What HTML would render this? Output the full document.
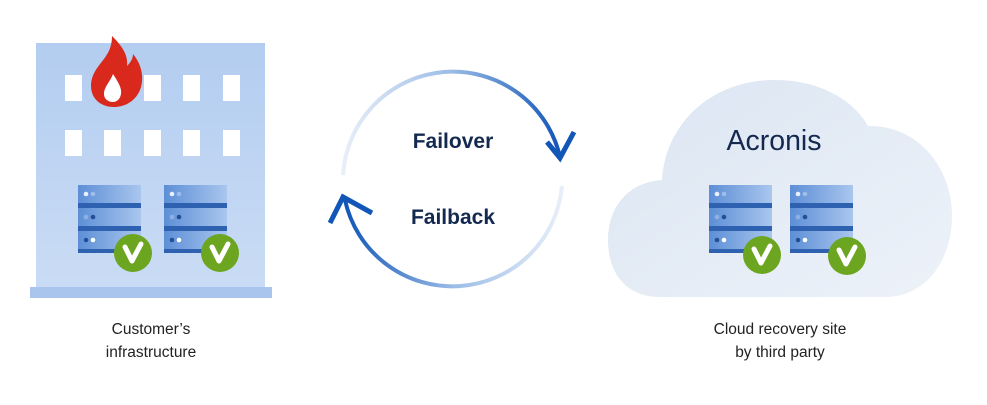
<!DOCTYPE html>
<html><head><meta charset="utf-8"><style>
body{margin:0;background:#fff;width:987px;height:400px;overflow:hidden;font-family:"Liberation Sans",sans-serif}
</style></head><body>
<svg width="987" height="400" viewBox="0 0 987 400" xmlns="http://www.w3.org/2000/svg">
<defs>
<linearGradient id="bld" x1="0" y1="0" x2="0" y2="1"><stop offset="0" stop-color="#b3cdf0"/><stop offset="1" stop-color="#cadcf5"/></linearGradient>
<linearGradient id="cld" x1="0" y1="0" x2="1" y2="1"><stop offset="0" stop-color="#dbe5f2"/><stop offset="1" stop-color="#edf2f9"/></linearGradient>
<linearGradient id="srv" x1="0" y1="0" x2="1" y2="0"><stop offset="0" stop-color="#5d8fd6"/><stop offset="1" stop-color="#a9c6ee"/></linearGradient>
<linearGradient id="a1" x1="0" y1="0" x2="1" y2="0"><stop offset="0" stop-color="#e8eff9"/><stop offset="0.5" stop-color="#9bbce6"/><stop offset="1" stop-color="#1256b8"/></linearGradient>
<linearGradient id="a2" x1="1" y1="0" x2="0" y2="0"><stop offset="0" stop-color="#e8eff9"/><stop offset="0.5" stop-color="#9bbce6"/><stop offset="1" stop-color="#1256b8"/></linearGradient>
<g id="server">
<rect x="0" y="0" width="63" height="68" fill="url(#srv)"/>
<rect x="0" y="18" width="63" height="5" fill="#2e62b0"/>
<rect x="0" y="41" width="63" height="5" fill="#2e62b0"/>
<rect x="0" y="64" width="63" height="4" fill="#2e62b0"/>
<circle cx="8" cy="9" r="2.3" fill="#e8f0ff"/><circle cx="15" cy="9" r="2.3" fill="#9fbde8"/>
<circle cx="8" cy="32" r="2.3" fill="#8fb0e0"/><circle cx="15" cy="32" r="2.3" fill="#244f96"/>
<circle cx="8" cy="55" r="2.3" fill="#244f96"/><circle cx="15" cy="55" r="2.3" fill="#ffffff"/>
</g>
<g id="chk">
<circle cx="0" cy="0" r="19" fill="#6ca51f"/>
<path d="M-8,-6 L-1,8 L8,-9" fill="none" stroke="#fff" stroke-width="5" stroke-linejoin="round" stroke-linecap="round"/>
</g>
</defs>
<!-- building -->
<rect x="36" y="43" width="229" height="246" fill="url(#bld)"/>
<rect x="30" y="287" width="242" height="11" fill="#a9c5ee"/>
<g fill="#fff">
<rect x="65" y="75" width="17" height="26"/><rect x="144" y="75" width="17" height="26"/><rect x="183" y="75" width="17" height="26"/><rect x="223" y="75" width="17" height="26"/>
<rect x="65" y="130" width="17" height="26"/><rect x="104" y="130" width="17" height="26"/><rect x="144" y="130" width="17" height="26"/><rect x="183" y="130" width="17" height="26"/><rect x="223" y="130" width="17" height="26"/>
</g>
<path d="M112,36 C124,48 128,56 127,66 C131,62 133,58 133,54 C143,66 144,80 140,90 C135,102 124,107 114,107 C100,107 91,98 91,86 C91,72 101,64 106,56 C110,50 112,44 112,36Z" fill="#d9281c"/>
<path d="M113,74 C118,82 122,88 121,94 C120,100 116,102 113,102 C108,102 104,99 104,94 C104,87 110,82 113,74Z" fill="#fff"/>
<use href="#server" x="78" y="185"/><use href="#server" x="164" y="185"/>
<use href="#chk" x="133" y="253"/><use href="#chk" x="220" y="253"/>
<text x="151" y="334" text-anchor="middle" font-size="15.5" fill="#222">Customer’s</text>
<text x="151" y="357" text-anchor="middle" font-size="15.5" fill="#222">infrastructure</text>
<!-- cycle -->
<path d="M343,175 A110,110 0 0 1 560,157" fill="none" stroke="url(#a1)" stroke-width="4"/>
<path d="M547,142 L560,158 L574,132" fill="none" stroke="#1256b8" stroke-width="5" stroke-linejoin="miter"/>
<path d="M562,186 A110,110 0 0 1 345,200" fill="none" stroke="url(#a2)" stroke-width="4"/>
<path d="M330,223 L343,197 L372,213" fill="none" stroke="#1256b8" stroke-width="5" stroke-linejoin="miter"/>
<text x="453" y="148" text-anchor="middle" font-size="21" font-weight="bold" fill="#13294f">Failover</text>
<text x="453" y="224" text-anchor="middle" font-size="21" font-weight="bold" fill="#13294f">Failback</text>
<!-- cloud -->
<path d="M660,297 C625,297 608,272 608,240 C608,205 630,182 662,180 C665,125 710,80 775,80 C822,80 855,102 868,126 C918,125 952,168 952,215 C952,262 925,297 885,297 Z" fill="url(#cld)"/>
<text x="774" y="150" text-anchor="middle" font-size="28.5" fill="#15284f">Acronis</text>
<use href="#server" x="709" y="185"/><use href="#server" x="790" y="185"/>
<use href="#chk" x="762" y="255"/><use href="#chk" x="847" y="256"/>
<text x="780" y="334" text-anchor="middle" font-size="15.5" fill="#222">Cloud recovery site</text>
<text x="780" y="357" text-anchor="middle" font-size="15.5" fill="#222">by third party</text>
</svg>
</body></html>
